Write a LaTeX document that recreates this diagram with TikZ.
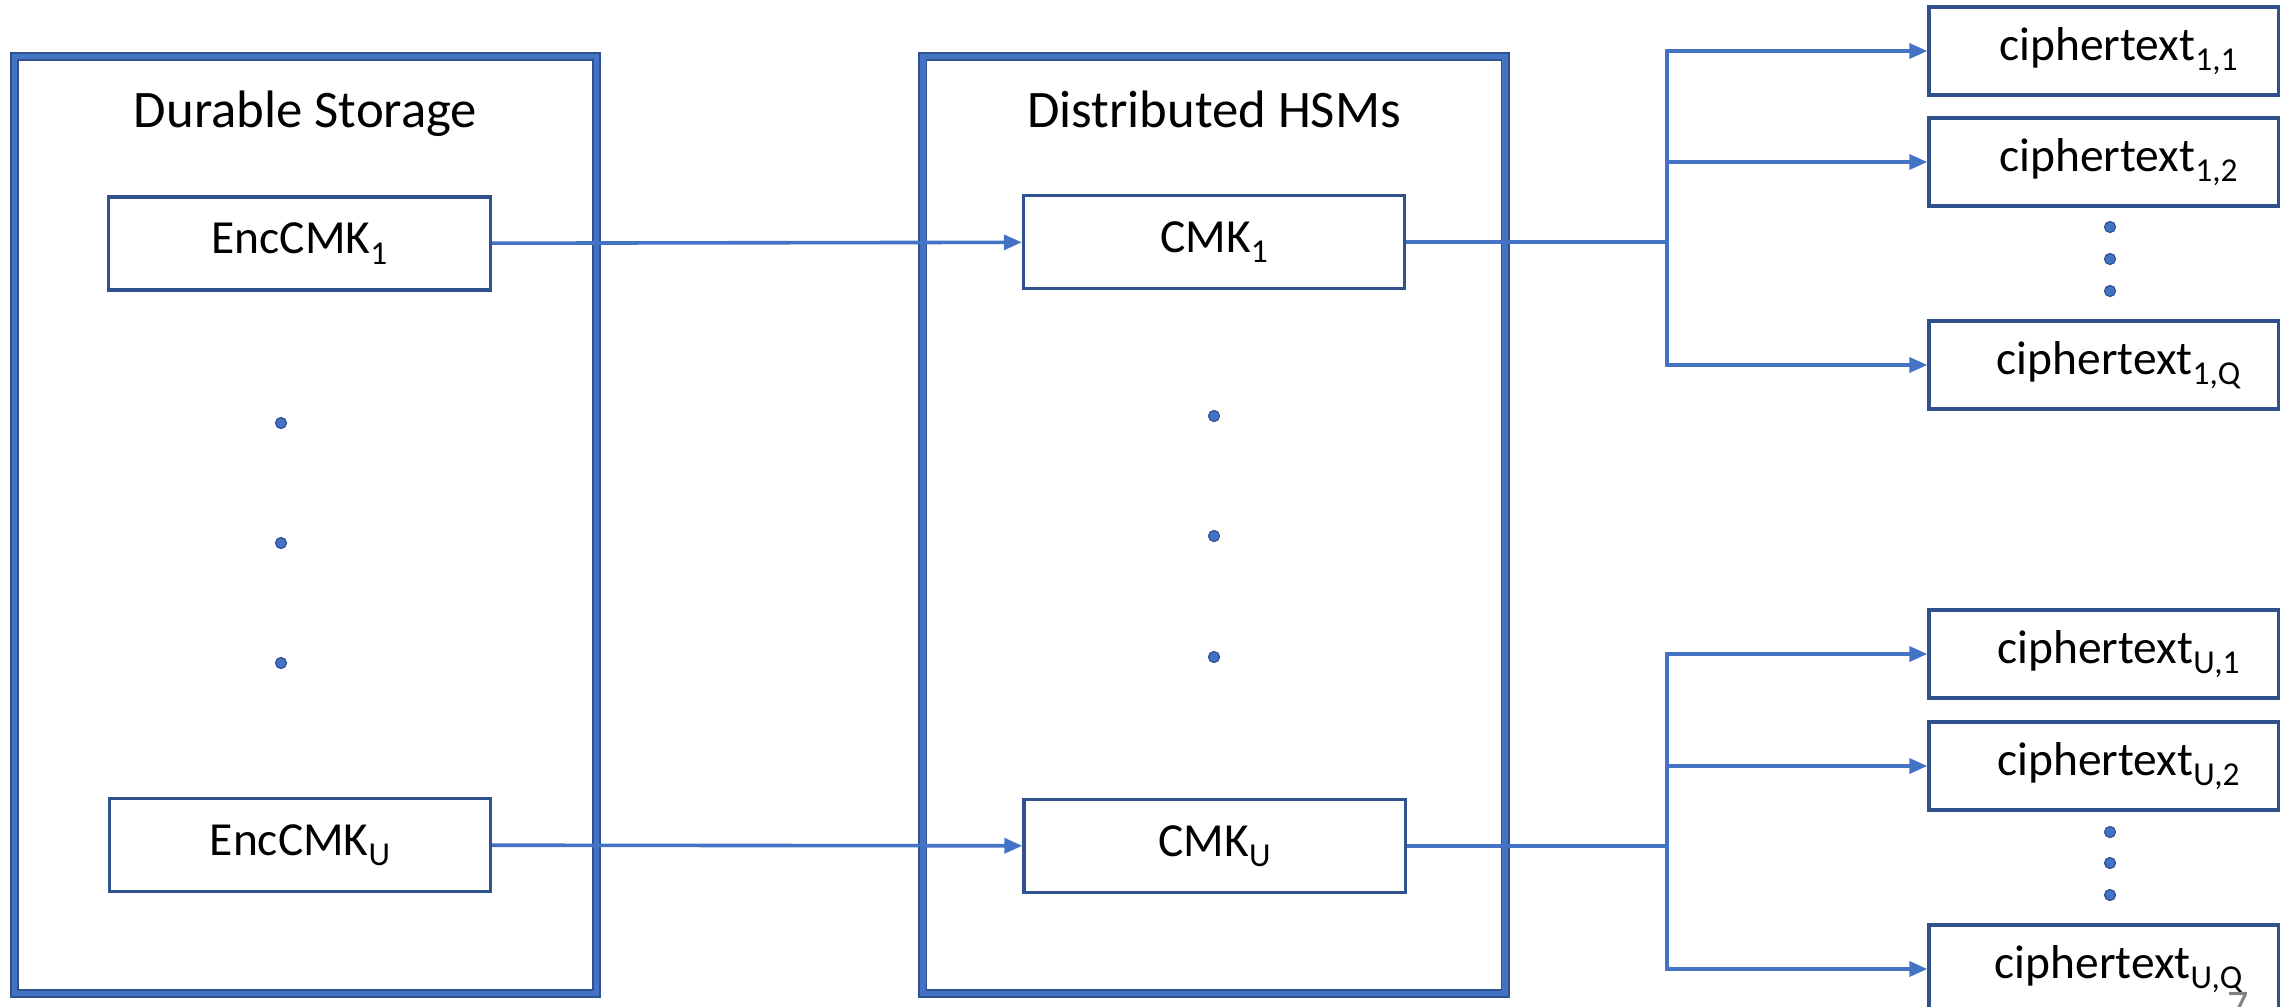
\documentclass[tikz,border=0pt]{standalone}
\usepackage{fontspec}
\setmainfont{Carlito}
\usetikzlibrary{arrows.meta}
\definecolor{accent}{HTML}{4472C4}
\definecolor{edge}{HTML}{2F528F}
\newcommand\idx[1]{\raisebox{-0.22em}{\fontsize{9.5}{10}\selectfont #1}}
\tikzset{
  container/.style={draw=edge, line width=0.09cm, minimum width=5.82cm, minimum height=9.36cm,
    postaction={draw=accent, line width=0.055cm}},
  title/.style={anchor=base, font=\fontsize{15}{18}\selectfont},
  keybox/.style={draw=edge, line width=0.032cm, fill=white, minimum width=3.81cm, minimum height=0.93cm,
    font=\fontsize{13.5}{16}\selectfont},
  ctbox/.style={draw=edge, line width=0.032cm, fill=white, minimum width=3.49cm, minimum height=0.88cm,
    font=\fontsize{13.5}{16}\selectfont},
  dot/.style={circle, fill=accent, draw=edge, line width=0.012cm, minimum size=0.11cm, inner sep=0pt},
  link/.style={draw=accent, line width=0.036cm},
  flow/.style={link, -{Triangle[length=0.18cm,width=0.15cm]}},
}
\begin{document}
\begin{tikzpicture}[x=0.01cm, y=-0.01cm]
\useasboundingbox (0,0) rectangle (2288,1006);

% the two containers
\node[container] (storage) at (305.5,525) {};
\node[container] (hsms) at (1214,525) {};
\node[title] (storageT) at (305.5,127) {Durable Storage};
\node[title] (hsmsT) at (1214,127) {Distributed HSMs};

% keys held in storage and in the HSMs
\node[keybox] (enc1) at (299.5,243.5) {EncCMK\idx{1}};
\node[keybox] (encU) at (300,845) {EncCMK\idx{U}};
\node[keybox] (cmk1) at (1214,242) {CMK\idx{1}};
\node[keybox] (cmkU) at (1214.5,846) {CMK\idx{U}};

% ellipsis dots between the keys
\node[dot] (ld1) at (281,423) {};
\node[dot] (ld2) at (281,543) {};
\node[dot] (ld3) at (281,663) {};
\node[dot] (md1) at (1214,416) {};
\node[dot] (md2) at (1214,536) {};
\node[dot] (md3) at (1214,657) {};

% ciphertexts
\node[ctbox] (c11) at (2103.5,51) {\hspace*{0.3cm}ciphertext\idx{1,1}};
\node[ctbox] (c12) at (2103.5,162) {\hspace*{0.3cm}ciphertext\idx{1,2}};
\node[ctbox] (c1Q) at (2103.5,365) {\hspace*{0.3cm}ciphertext\idx{1,Q}};
\node[ctbox] (cU1) at (2103.5,654) {\hspace*{0.3cm}ciphertext\idx{U,1}};
\node[ctbox] (cU2) at (2103.5,766) {\hspace*{0.3cm}ciphertext\idx{U,2}};
\node[ctbox] (cUQ) at (2103.5,969) {\hspace*{0.3cm}ciphertext\idx{U,Q}};

\node[dot] (rd1) at (2110,227) {};
\node[dot] (rd2) at (2110,259) {};
\node[dot] (rd3) at (2110,291) {};
\node[dot] (rd4) at (2110,832) {};
\node[dot] (rd5) at (2110,863) {};
\node[dot] (rd6) at (2110,895) {};

% key transfer
\draw[flow] (enc1) -- (cmk1);
\draw[flow] (encU) -- (cmkU);

% fan-out to ciphertexts
\coordinate (j1) at (1667,242);
\coordinate (jU) at (1667,846);
\draw[link] (cmk1) -- (j1);
\draw[link] (cmkU) -- (jU);
\draw[flow] (j1) |- (c11);
\draw[flow] (j1) |- (c12);
\draw[flow] (j1) |- (c1Q);
\draw[flow] (jU) |- (cU1);
\draw[flow] (jU) |- (cU2);
\draw[flow] (jU) |- (cUQ);

% page number
\node[anchor=north, inner sep=0pt, text=gray, font=\fontsize{12}{14}\selectfont] (pageno) at (2238,992) {7};
\end{tikzpicture}
\end{document}
